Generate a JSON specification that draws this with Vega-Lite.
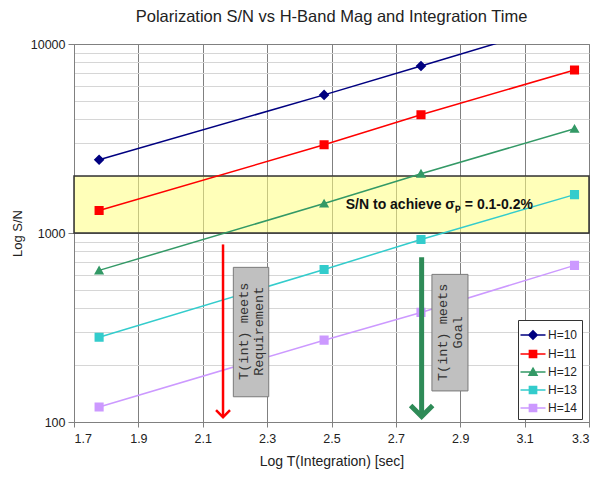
{
  "$schema": "https://vega.github.io/schema/vega-lite/v6.json",
  "autosize": {"type": "none"},
  "width": 515,
  "height": 378,
  "padding": {"left": 74, "top": 44, "right": 9, "bottom": 58},
  "background": "white",
  "title": {"text": "Polarization S/N vs H-Band Mag and Integration Time", "font": "Liberation Sans", "fontSize": 16.5, "fontWeight": "normal", "color": "#222222", "anchor": "middle", "offset": 13},
  "config": {
    "view": {"stroke": "#808080"},
    "axis": {"labelFont": "Liberation Sans", "titleFont": "Liberation Sans", "labelFontSize": 12.5, "titleFontSize": 14, "titleFontWeight": "normal", "labelColor": "#222", "titleColor": "#222", "domainColor": "#808080", "tickColor": "#808080"}
  },
  "layer": [
    {
      "data": {"values": [{"x": 1.7, "x2": 3.3, "y": 1000, "y2": 2000}]},
      "mark": {"type": "rect", "fill": "#FFFF80", "fillOpacity": 0.55, "stroke": "#333333", "strokeWidth": 1.5},
      "encoding": {
        "x": {"field": "x", "type": "quantitative", "scale": {"domain": [1.7, 3.3], "nice": false, "zero": false},
          "axis": {"title": "Log T(Integration) [sec]", "values": [1.7, 1.9, 2.1, 2.3, 2.5, 2.7, 2.9, 3.1, 3.3], "format": ".1f", "gridColor": "#808080", "gridOpacity": 1, "tickSize": 5, "labelPadding": 5, "titlePadding": 10}},
        "x2": {"field": "x2"},
        "y": {"field": "y", "type": "quantitative", "scale": {"type": "log", "domain": [100, 10000], "nice": false},
          "axis": {"title": "Log S/N", "titleFontSize": 13, "values": [100, 200, 300, 400, 500, 600, 700, 800, 900, 1000, 2000, 3000, 4000, 5000, 6000, 7000, 8000, 9000, 10000], "format": "d",
            "labelExpr": "(datum.value==100||datum.value==1000||datum.value==10000)?datum.label:''",
            "gridColor": {"condition": {"test": "datum.value==100||datum.value==1000||datum.value==10000", "value": "#808080"}, "value": "#d6d6d6"},
            "tickColor": {"condition": {"test": "datum.value==100||datum.value==1000||datum.value==10000", "value": "#808080"}, "value": "transparent"},
            "tickSize": 6, "labelPadding": 3, "titlePadding": 6}},
        "y2": {"field": "y2"}
      }
    },
    {
      "data": {"name": "series", "values": [
        {"H": "H=10", "x": 1.778, "y": 2440}, {"H": "H=10", "x": 2.477, "y": 5380}, {"H": "H=10", "x": 2.778, "y": 7650}, {"H": "H=10", "x": 3.255, "y": 13400},
        {"H": "H=11", "x": 1.778, "y": 1315}, {"H": "H=11", "x": 2.477, "y": 2930}, {"H": "H=11", "x": 2.778, "y": 4220}, {"H": "H=11", "x": 3.255, "y": 7290},
        {"H": "H=12", "x": 1.778, "y": 634}, {"H": "H=12", "x": 2.477, "y": 1432}, {"H": "H=12", "x": 2.778, "y": 2060}, {"H": "H=12", "x": 3.255, "y": 3560},
        {"H": "H=13", "x": 1.778, "y": 281}, {"H": "H=13", "x": 2.477, "y": 641}, {"H": "H=13", "x": 2.778, "y": 924}, {"H": "H=13", "x": 3.255, "y": 1596},
        {"H": "H=14", "x": 1.778, "y": 120}, {"H": "H=14", "x": 2.477, "y": 271}, {"H": "H=14", "x": 2.778, "y": 380}, {"H": "H=14", "x": 3.255, "y": 674}
      ]},
      "layer": [
        {
          "mark": {"type": "line", "strokeWidth": 1.5, "clip": true},
          "encoding": {
            "x": {"field": "x", "type": "quantitative"},
            "y": {"field": "y", "type": "quantitative"},
            "color": {"field": "H", "type": "nominal"}
          }
        },
        {
          "mark": {"type": "point", "filled": true, "opacity": 1, "size": 640, "strokeWidth": 0, "clip": true},
          "encoding": {
            "x": {"field": "x", "type": "quantitative"},
            "y": {"field": "y", "type": "quantitative"},
            "color": {"field": "H", "type": "nominal", "scale": {"domain": ["H=10", "H=11", "H=12", "H=13", "H=14"], "range": ["#000080", "#FF0000", "#339966", "#33CCCC", "#CC99FF"]},
              "legend": {"title": null, "orient": "none", "legendX": 444, "legendY": 276, "strokeColor": "#333333", "fillColor": "white", "padding": 4, "symbolSize": 400, "labelFont": "Liberation Sans", "labelFontSize": 12, "labelColor": "#222", "labelOffset": 4, "rowPadding": -1,
                "encode": {"symbols": {"update": {"stroke": {"scale": "color", "field": "value"}, "strokeWidth": {"value": 1.5}, "opacity": {"value": 1}}}}}},
            "shape": {"field": "H", "type": "nominal", "scale": {"domain": ["H=10", "H=11", "H=12", "H=13", "H=14"], "range": [
              "M-1.25,0H1.25M0,-0.42L0.42,0L0,0.42L-0.42,0Z",
              "M-1.25,0H1.25M-0.36,-0.36H0.36V0.36H-0.36Z",
              "M-1.25,0H1.25M0,-0.38L0.4,0.32H-0.4Z",
              "M-1.25,0H1.25M-0.36,-0.36H0.36V0.36H-0.36Z",
              "M-1.25,0H1.25M-0.36,-0.36H0.36V0.36H-0.36Z"]}}
          }
        }
      ]
    },
    {
      "data": {"values": [{"x": 2.835, "y": 1413, "label": "S/N to achieve σₚ = 0.1-0.2%"}]},
      "mark": {"type": "text", "font": "Liberation Sans", "fontSize": 14, "fontWeight": "bold", "color": "#111", "align": "center", "baseline": "middle"},
      "encoding": {"x": {"field": "x", "type": "quantitative"}, "y": {"field": "y", "type": "quantitative"}, "text": {"field": "label"}}
    },
    {
      "data": {"values": [
        {"x": 2.195, "x2": 2.305, "y": 136, "y2": 658},
        {"x": 2.812, "x2": 2.924, "y": 146, "y2": 604}
      ]},
      "mark": {"type": "rect", "fill": "#C0C0C0", "stroke": "#7a7a7a", "strokeWidth": 1},
      "encoding": {"x": {"field": "x", "type": "quantitative"}, "x2": {"field": "x2"}, "y": {"field": "y", "type": "quantitative"}, "y2": {"field": "y2"}}
    },
    {
      "data": {"values": [
        {"x": 2.227, "y": 302, "label": "T(int) meets|Requirement"},
        {"x": 2.845, "y": 298, "label": "T(int) meets|Goal"}
      ]},
      "mark": {"type": "text", "font": "Liberation Mono", "fontSize": 13.5, "color": "#333", "angle": 270, "align": "center", "baseline": "middle", "lineBreak": "|", "lineHeight": 15},
      "encoding": {"x": {"field": "x", "type": "quantitative"}, "y": {"field": "y", "type": "quantitative"}, "text": {"field": "label"}}
    },
    {
      "data": {"values": [{"x": 2.163, "y": 870, "y2": 107}]},
      "mark": {"type": "rule", "color": "#FF0000", "strokeWidth": 2.5},
      "encoding": {"x": {"field": "x", "type": "quantitative"}, "y": {"field": "y", "type": "quantitative"}, "y2": {"field": "y2"}}
    },
    {
      "data": {"values": [{"x": 2.78, "y": 745, "y2": 108}]},
      "mark": {"type": "rule", "color": "#2E8B57", "strokeWidth": 5},
      "encoding": {"x": {"field": "x", "type": "quantitative"}, "y": {"field": "y", "type": "quantitative"}, "y2": {"field": "y2"}}
    },
    {
      "data": {"values": [{"x": 2.163, "y": 106}]},
      "mark": {"type": "point", "shape": "M-1,-1L0,0L1,-1", "filled": false, "size": 196, "stroke": "#FF0000", "strokeWidth": 2.5, "opacity": 1},
      "encoding": {"x": {"field": "x", "type": "quantitative"}, "y": {"field": "y", "type": "quantitative"}}
    },
    {
      "data": {"values": [{"x": 2.78, "y": 107}]},
      "mark": {"type": "point", "shape": "M-1,-1L0,0L1,-1", "filled": false, "size": 484, "stroke": "#2E8B57", "strokeWidth": 5, "opacity": 1},
      "encoding": {"x": {"field": "x", "type": "quantitative"}, "y": {"field": "y", "type": "quantitative"}}
    }
  ]
}
